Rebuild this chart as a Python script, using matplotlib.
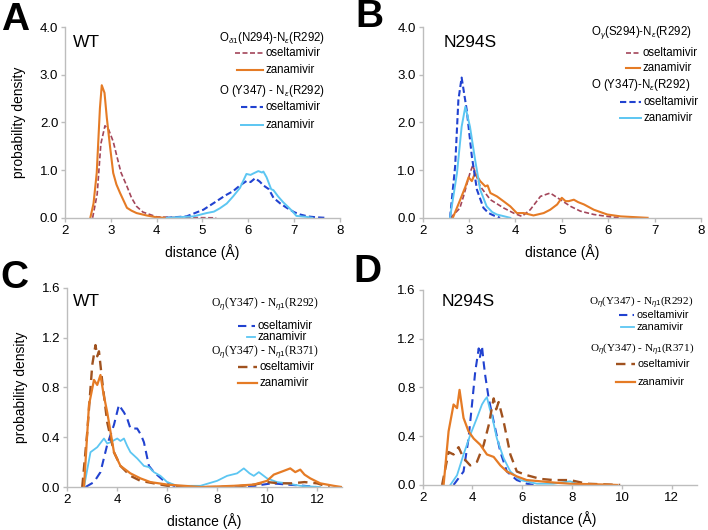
import matplotlib
matplotlib.use("Agg")
import matplotlib.pyplot as plt

plt.rcParams['font.family'] = ['Liberation Sans', 'DejaVu Sans']
plt.rcParams['mathtext.fontset'] = 'custom'
plt.rcParams['mathtext.rm'] = 'Liberation Sans'
plt.rcParams['mathtext.it'] = 'Liberation Sans:italic'

ORANGE = "#E57B25"
LIGHTBLUE = "#5CC6F2"
BLUE = "#2142D0"
ROSE = "#A3465A"
BROWN = "#A0521F"
AXIS_GREY = "#BDBDBD"

# ---- Panel A: WT, distances in A, densities ----
a_ose_x = [2.6, 2.7, 2.78, 2.87, 2.95, 3.05, 3.13, 3.22, 3.35, 3.45, 3.56, 3.7, 3.85, 4.0, 4.3, 5.3]
a_ose_y = [0.0, 0.5, 1.55, 1.93, 1.85, 1.6, 1.29, 0.95, 0.66, 0.42, 0.24, 0.12, 0.07, 0.02, 0.01, 0.0]
a_zan_x = [2.55, 2.62, 2.69, 2.76, 2.8, 2.86, 2.91, 2.98, 3.05, 3.12, 3.2, 3.35, 3.45, 3.56, 3.78, 4.0, 4.2]
a_zan_y = [0.0, 0.3, 0.94, 2.3, 2.78, 2.62, 2.1, 1.5, 0.94, 0.7, 0.52, 0.21, 0.15, 0.1, 0.05, 0.01, 0.0]
a_y347_ose_x = [4.2, 4.65, 5.02, 5.31, 5.5, 5.67, 5.82, 5.96, 6.05, 6.15, 6.25, 6.33, 6.45, 6.55, 6.7, 6.84, 7.0, 7.13, 7.3, 7.49, 7.7]
a_y347_ose_y = [0.0, 0.03, 0.17, 0.35, 0.47, 0.56, 0.68, 0.77, 0.75, 0.83, 0.76, 0.68, 0.6, 0.42, 0.3, 0.21, 0.12, 0.07, 0.03, 0.01, 0.0]
a_y347_zan_x = [4.22, 4.8, 5.09, 5.25, 5.38, 5.53, 5.67, 5.82, 5.96, 6.05, 6.11, 6.22, 6.3, 6.33, 6.4, 6.5, 6.55, 6.65, 6.76, 6.9, 6.98, 7.05, 7.27, 7.4]
a_y347_zan_y = [0.0, 0.03, 0.1, 0.13, 0.2, 0.3, 0.45, 0.63, 0.92, 0.9, 0.93, 0.98, 0.95, 0.97, 0.85, 0.6, 0.58, 0.45, 0.33, 0.2, 0.12, 0.04, 0.02, 0.0]

# ---- Panel B: N294S ----
b_y347_ose_x = [2.59, 2.7, 2.77, 2.84, 2.95, 3.06, 3.17, 3.31, 3.42, 3.53, 3.67]
b_y347_ose_y = [0.0, 1.08, 2.47, 2.94, 2.26, 1.29, 0.59, 0.21, 0.1, 0.05, 0.0]
b_y347_zan_x = [2.59, 2.74, 2.84, 2.92, 3.02, 3.13, 3.24, 3.38, 3.5, 3.6, 3.89]
b_y347_zan_y = [0.0, 0.94, 1.91, 2.33, 1.91, 1.22, 0.59, 0.24, 0.12, 0.07, 0.0]
b_ose_x = [2.6, 2.8, 2.88, 3.02, 3.08, 3.24, 3.46, 3.74, 3.96, 4.14, 4.32, 4.54, 4.75, 4.97, 5.19, 5.4, 5.69, 6.05, 6.27]
b_ose_y = [0.0, 0.2, 0.45, 0.94, 1.1, 0.66, 0.38, 0.21, 0.1, 0.03, 0.17, 0.45, 0.52, 0.38, 0.24, 0.14, 0.07, 0.02, 0.0]
b_zan_x = [2.65, 2.81, 2.92, 2.99, 3.06, 3.13, 3.24, 3.35, 3.4, 3.46, 3.6, 3.74, 3.89, 4.03, 4.18, 4.39, 4.61, 4.75, 4.9, 5.0, 5.08,
           5.15, 5.26, 5.35, 5.48, 5.69, 5.98, 6.27, 6.85]
b_zan_y = [0.0, 0.38, 0.65, 0.85, 0.77, 0.94, 0.77, 0.66, 0.68, 0.52, 0.45, 0.35, 0.24, 0.1, 0.1, 0.05, 0.1, 0.17, 0.28, 0.42, 0.35,
           0.35, 0.38, 0.33, 0.28, 0.17, 0.07, 0.03, 0.0]

# ---- Panel C: WT ----
c_r292_ose_x = [2.73, 3.07, 3.33, 3.6, 3.87, 4.07, 4.2, 4.27, 4.4, 4.53, 4.8, 4.95, 5.07, 5.27, 5.47, 5.87, 6.27, 7.0, 8.0, 9.5, 10.2, 10.8, 11.5, 12.0]
c_r292_ose_y = [0.0, 0.04, 0.12, 0.34, 0.5, 0.66, 0.62, 0.6, 0.55, 0.47, 0.47, 0.42, 0.36, 0.17, 0.12, 0.05, 0.01, 0.0, 0.0, 0.01, 0.03, 0.02, 0.01, 0.0]
c_r292_zan_x = [2.67, 2.93, 3.2, 3.47, 3.6, 3.73, 4.0, 4.13, 4.27, 4.4, 4.53, 4.8, 5.07, 5.27, 5.47, 5.73, 6.0, 6.4, 7.33, 8.0, 8.4, 8.8,
                9.07, 9.3, 9.47, 9.67, 10.0, 10.4, 10.8, 11.33, 12.13]
c_r292_zan_y = [0.0, 0.28, 0.32, 0.39, 0.35, 0.36, 0.39, 0.37, 0.39, 0.33, 0.28, 0.23, 0.17, 0.16, 0.12, 0.09, 0.04, 0.01, 0.01, 0.05, 0.09, 0.11,
                0.15, 0.11, 0.09, 0.12, 0.07, 0.04, 0.03, 0.01, 0.0]
c_r371_ose_x = [2.6, 2.8, 3.0, 3.13, 3.2, 3.27, 3.4, 3.6, 3.87, 4.13, 4.53, 4.93, 5.47, 6.0, 7.0, 8.5, 9.5, 10.0, 10.5, 11.0, 11.5, 12.0, 12.5]
c_r371_ose_y = [0.0, 0.44, 0.98, 1.14, 1.05, 1.09, 0.85, 0.52, 0.28, 0.17, 0.09, 0.05, 0.03, 0.01, 0.0, 0.0, 0.02, 0.04, 0.03, 0.03, 0.04, 0.03, 0.0]
c_r371_zan_x = [2.67, 2.87, 3.07, 3.2, 3.33, 3.45, 3.6, 3.87, 4.13, 4.53, 4.93, 5.33, 6.0, 7.33, 8.67, 9.47, 10.0, 10.27, 10.67, 10.93,
                11.13, 11.33, 11.5, 11.73, 12.13, 12.67, 13.0]
c_r371_zan_y = [0.0, 0.66, 0.86, 0.82, 0.9, 0.75, 0.6, 0.28, 0.17, 0.11, 0.07, 0.04, 0.02, 0.0, 0.01, 0.02, 0.05, 0.1, 0.13, 0.15,
                0.12, 0.14, 0.1, 0.07, 0.03, 0.01, 0.0]

# ---- Panel D: N294S ----
d_r292_ose_x = [3.24, 3.64, 3.84, 3.98, 4.11, 4.25, 4.3, 4.38, 4.45, 4.51, 4.65, 4.85, 5.12, 5.38, 5.78, 6.18, 6.45]
d_r292_ose_y = [0.0, 0.11, 0.38, 0.66, 0.93, 1.12, 1.05, 1.14, 1.0, 0.9, 0.71, 0.52, 0.27, 0.11, 0.04, 0.01, 0.0]
d_r292_zan_x = [3.11, 3.38, 3.64, 3.91, 4.18, 4.38, 4.5, 4.58, 4.7, 4.78, 4.98, 5.25, 5.52, 5.92, 6.59, 7.25, 7.92, 8.32]
d_r292_zan_y = [0.0, 0.08, 0.25, 0.41, 0.55, 0.66, 0.7, 0.72, 0.62, 0.57, 0.38, 0.22, 0.11, 0.04, 0.01, 0.01, 0.03, 0.0]
d_r371_ose_x = [2.78, 3.04, 3.24, 3.44, 3.64, 3.91, 4.18, 4.45, 4.65, 4.85, 4.95, 5.05, 5.25, 5.52, 5.78, 6.18, 6.72, 7.25, 7.92, 8.59, 9.26, 9.93]
d_r371_ose_y = [0.0, 0.27, 0.25, 0.31, 0.22, 0.16, 0.19, 0.33, 0.49, 0.71, 0.62, 0.68, 0.52, 0.25, 0.11, 0.08, 0.05, 0.04, 0.04, 0.01, 0.005, 0.0]
d_r371_zan_x = [2.84, 3.04, 3.24, 3.38, 3.48, 3.64, 3.84, 4.05, 4.31, 4.58, 4.85, 5.12, 5.38, 5.78, 6.18, 6.72, 7.25, 7.92, 9.0, 9.8]
d_r371_zan_y = [0.0, 0.44, 0.66, 0.63, 0.78, 0.55, 0.44, 0.38, 0.33, 0.25, 0.23, 0.16, 0.11, 0.07, 0.04, 0.03, 0.02, 0.01, 0.005, 0.0]


def style_axes(ax, xlim, xticks, ylim, yticks):
    ax.set_xlim(xlim)
    ax.set_ylim(ylim)
    ax.set_xticks(xticks)
    ax.set_yticks(yticks)
    ax.set_yticklabels(["%.1f" % t for t in yticks])
    for side in ["top", "right"]:
        ax.spines[side].set_visible(False)
    for side in ["left", "bottom"]:
        ax.spines[side].set_color(AXIS_GREY)
        ax.spines[side].set_linewidth(1.0)
    ax.tick_params(direction="out", length=3, width=1, color=AXIS_GREY, labelsize=9.5, pad=2)
    ax.set_xlabel("distance (\u00c5)", fontsize=10, labelpad=5)


def key(ax, x0, x1, y, label, size=8.3, **style):
    # small legend sample + label, placed in axes fraction
    ax.plot([x0, x1], [y, y], transform=ax.transAxes, clip_on=False, **style)
    ax.text(x1 + 0.01, y, label, transform=ax.transAxes, fontsize=size, va="center", ha="left")


fig = plt.figure(figsize=(7.08, 5.30), dpi=100)
axA = fig.add_axes([0.092, 0.589, 0.388, 0.360])
axB = fig.add_axes([0.597, 0.589, 0.393, 0.360])
axC = fig.add_axes([0.095, 0.081, 0.388, 0.376])
axD = fig.add_axes([0.597, 0.085, 0.387, 0.368])

# A
axA.plot(a_ose_x, a_ose_y, color=ROSE, lw=1.2, dashes=(3, 1.5))
axA.plot(a_zan_x, a_zan_y, color=ORANGE, lw=1.5)
axA.plot(a_y347_ose_x, a_y347_ose_y, color=BLUE, lw=1.5, dashes=(3, 1.5))
axA.plot(a_y347_zan_x, a_y347_zan_y, color=LIGHTBLUE, lw=1.4)
style_axes(axA, (2, 8), range(2, 9), (0, 4), [0.0, 1.0, 2.0, 3.0, 4.0])
axA.set_ylabel("probability density", fontsize=10, labelpad=10)
axA.text(0.03, 0.92, "WT", transform=axA.transAxes, fontsize=12.5, va="center")
axA.text(0.753, 0.942, r"O$_{\delta1}$(N294)-N$_{\varepsilon}$(R292)", transform=axA.transAxes,
         fontsize=8.3, ha="center", va="center")
key(axA, 0.618, 0.72, 0.864, "oseltamivir", color=ROSE, lw=1.2, dashes=(3, 1.5))
key(axA, 0.625, 0.72, 0.775, "zanamivir", color=ORANGE, lw=1.5)
axA.text(0.753, 0.665, r"O (Y347) - N$_{\varepsilon}$(R292)", transform=axA.transAxes,
         fontsize=8.3, ha="center", va="center")
key(axA, 0.64, 0.72, 0.581, "oseltamivir", color=BLUE, lw=1.5, dashes=(3, 1.5))
key(axA, 0.64, 0.72, 0.487, "zanamivir", color=LIGHTBLUE, lw=1.4)

# B
axB.plot(b_ose_x, b_ose_y, color=ROSE, lw=1.2, dashes=(3, 1.5))
axB.plot(b_zan_x, b_zan_y, color=ORANGE, lw=1.5)
axB.plot(b_y347_ose_x, b_y347_ose_y, color=BLUE, lw=1.5, dashes=(3, 1.5))
axB.plot(b_y347_zan_x, b_y347_zan_y, color=LIGHTBLUE, lw=1.4)
style_axes(axB, (2, 8), range(2, 9), (0, 4), [0.0, 1.0, 2.0, 3.0, 4.0])
axB.text(0.075, 0.92, "N294S", transform=axB.transAxes, fontsize=12.5, va="center")
axB.text(0.784, 0.969, r"O$_{\gamma}$(S294)-N$_{\varepsilon}$(R292)", transform=axB.transAxes,
         fontsize=8.3, ha="center", va="center")
key(axB, 0.73, 0.78, 0.864, "oseltamivir", color=ROSE, lw=1.2, dashes=(3, 1.5))
key(axB, 0.73, 0.78, 0.785, "zanamivir", color=ORANGE, lw=1.5)
axB.text(0.784, 0.696, r"O (Y347)-N$_{\varepsilon}$(R292)", transform=axB.transAxes,
         fontsize=8.3, ha="center", va="center")
key(axB, 0.709, 0.785, 0.607, "oseltamivir", color=BLUE, lw=1.5, dashes=(3, 1.5))
key(axB, 0.709, 0.785, 0.524, "zanamivir", color=LIGHTBLUE, lw=1.4)

# C
axC.plot(c_r292_ose_x, c_r292_ose_y, color=BLUE, lw=1.5, dashes=(4, 2.5))
axC.plot(c_r292_zan_x, c_r292_zan_y, color=LIGHTBLUE, lw=1.3)
axC.plot(c_r371_ose_x, c_r371_ose_y, color=BROWN, lw=1.7, dashes=(4, 2.5))
axC.plot(c_r371_zan_x, c_r371_zan_y, color=ORANGE, lw=1.6)
style_axes(axC, (2, 13), range(2, 13, 2), (0, 1.6), [0.0, 0.4, 0.8, 1.2, 1.6])
axC.set_ylabel("probability density", fontsize=10, labelpad=10)
axC.text(0.02, 0.93, "WT", transform=axC.transAxes, fontsize=12.5, va="center")
serif = ["Liberation Serif", "DejaVu Serif"]
axC.text(0.72, 0.92, r"O$_{\eta}$(Y347) - N$_{\eta1}$(R292)", transform=axC.transAxes,
         fontsize=8.3, ha="center", va="center", family=serif)
key(axC, 0.622, 0.684, 0.809, "oseltamivir", color=BLUE, lw=1.5, dashes=(4, 2.5))
key(axC, 0.655, 0.684, 0.754, "zanamivir", color=LIGHTBLUE, lw=1.3)
axC.text(0.72, 0.678, r"O$_{\eta}$(Y347) - N$_{\eta1}$(R371)", transform=axC.transAxes,
         fontsize=8.3, ha="center", va="center", family=serif)
key(axC, 0.622, 0.69, 0.603, "oseltamivir", color=BROWN, lw=1.7, dashes=(4, 2.5))
key(axC, 0.622, 0.69, 0.523, "zanamivir", color=ORANGE, lw=1.6)

# D
axD.plot(d_r292_ose_x, d_r292_ose_y, color=BLUE, lw=1.5, dashes=(4, 2.5))
axD.plot(d_r292_zan_x, d_r292_zan_y, color=LIGHTBLUE, lw=1.3)
axD.plot(d_r371_ose_x, d_r371_ose_y, color=BROWN, lw=1.7, dashes=(4, 2.5))
axD.plot(d_r371_zan_x, d_r371_zan_y, color=ORANGE, lw=1.6)
style_axes(axD, (2, 13), range(2, 13, 2), (0, 1.6), [0.0, 0.4, 0.8, 1.2, 1.6])
axD.text(0.07, 0.94, "N294S", transform=axD.transAxes, fontsize=12.5, va="center")
axD.text(0.796, 0.935, r"O$_{\eta}$(Y347) - N$_{\eta1}$(R292)", transform=axD.transAxes,
         fontsize=8.0, ha="center", va="center", family=serif)
key(axD, 0.715, 0.772, 0.872, "oseltamivir", size=7.8, color=BLUE, lw=1.5, dashes=(4, 2.5))
key(axD, 0.722, 0.772, 0.808, "zanamivir", size=7.8, color=LIGHTBLUE, lw=1.3)
axD.text(0.8, 0.692, r"O$_{\eta}$(Y347) - N$_{\eta1}$(R371)", transform=axD.transAxes,
         fontsize=8.0, ha="center", va="center", family=serif)
key(axD, 0.704, 0.775, 0.62, "oseltamivir", size=7.8, color=BROWN, lw=1.7, dashes=(4, 2.5))
key(axD, 0.704, 0.775, 0.528, "zanamivir", size=7.8, color=ORANGE, lw=1.6)

# panel letters
for letter, x, y in [("A", 0.002, 0.963), ("B", 0.502, 0.968), ("C", 0.0, 0.475), ("D", 0.499, 0.487)]:
    fig.text(x, y, letter, fontsize=28, fontweight="bold", va="center", ha="left")

fig.savefig("out.png", dpi=100)
